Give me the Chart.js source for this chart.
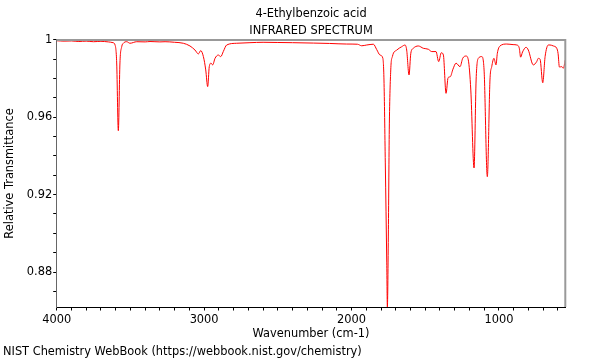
<!DOCTYPE html>
<html>
<head>
<meta charset="utf-8">
<title>4-Ethylbenzoic acid IR</title>
<script src="https://cdn.jsdelivr.net/npm/chart.js@4/dist/chart.umd.min.js"></script>
<style>
  html, body { margin: 0; padding: 0; background: #fff; }
  #wrap { width: 600px; height: 360px; }
</style>
</head>
<body>
<div id="wrap"><canvas id="ir" width="600" height="360"></canvas></div>
<script>
// spectrum (cm-1, relative transmittance)
const wavenumbers = [
  4000, 3950, 3900, 3850, 3800, 3750, 3700, 3650, 3618, 3604,
  3593, 3582, 3571, 3559, 3548, 3525, 3503, 3457, 3400, 3367,
  3300, 3265, 3200, 3141, 3096, 3062, 3039, 3023, 3005, 2989,
  2976, 2965, 2953, 2942, 2926, 2904, 2887, 2870, 2847, 2779,
  2689, 2600, 2500, 2400, 2259, 2150, 2033, 1960, 1931, 1897,
  1852, 1829, 1807, 1788, 1780, 1771, 1761, 1757, 1750, 1744,
  1734, 1723, 1693, 1660, 1637, 1626, 1610, 1598, 1581, 1547,
  1513, 1479, 1456, 1427, 1409, 1391, 1377, 1359, 1345, 1330,
  1312, 1291, 1264, 1246, 1223, 1208, 1191, 1169, 1155, 1140,
  1117, 1101, 1079, 1061, 1049, 1034, 1020, 1011, 993, 947,
  904, 879, 862, 853, 840, 816, 801, 767, 744, 733,
  721, 703, 687, 665, 654, 631, 608, 599, 590, 574,
  563, 550
];
const transmittance = [
  0.9996, 0.9994, 0.9995, 0.9992, 0.9994, 0.9991, 0.9993, 0.9990, 0.9986, 0.9974,
  0.9881, 0.9531, 0.9881, 0.9965, 0.9983, 0.9991, 0.9983, 0.9991, 0.9990, 0.9992,
  0.9990, 0.9991, 0.9988, 0.9983, 0.9969, 0.9948, 0.9928, 0.9945, 0.9914, 0.9845,
  0.9759, 0.9862, 0.9880, 0.9871, 0.9905, 0.9922, 0.9914, 0.9940, 0.9974, 0.9983,
  0.9986, 0.9988, 0.9987, 0.9986, 0.9984, 0.9982, 0.9979, 0.9978, 0.9970, 0.9974,
  0.9978, 0.9950, 0.9922, 0.9907, 0.9793, 0.9364, 0.8847, 0.8619, 0.9018, 0.9535,
  0.9845, 0.9914, 0.9948, 0.9965, 0.9974, 0.9948, 0.9819, 0.9931, 0.9957, 0.9969,
  0.9957, 0.9952, 0.9940, 0.9940, 0.9888, 0.9934, 0.9922, 0.9724, 0.9805, 0.9810,
  0.9849, 0.9880, 0.9862, 0.9905, 0.9917, 0.9897, 0.9741, 0.9338, 0.9793, 0.9905,
  0.9914, 0.9845, 0.9293, 0.9793, 0.9862, 0.9905, 0.9871, 0.9931, 0.9969, 0.9979,
  0.9976, 0.9974, 0.9957, 0.9911, 0.9938, 0.9962, 0.9948, 0.9871, 0.9888, 0.9905,
  0.9900, 0.9779, 0.9914, 0.9974, 0.9974, 0.9969, 0.9957, 0.9930, 0.9860, 0.9862,
  0.9854, 0.9897
];

const titleLines = ['4-Ethylbenzoic acid', 'INFRARED SPECTRUM'];
const xTitle = 'Wavenumber (cm-1)';
const yTitle = 'Relative Transmittance';
const footer = 'NIST Chemistry WebBook (https://webbook.nist.gov/chemistry)';
const xRange = [550, 4000];
const yRange = [0.8619, 1];

Chart.defaults.font.family = "'DejaVu Sans', sans-serif";
Chart.defaults.font.size = 11.4;
Chart.defaults.color = '#000';

// gray top/right frame
const frame = {
  id: 'frame',
  afterDraw(chart) {
    const { ctx, chartArea: a } = chart;
    ctx.save();
    ctx.strokeStyle = '#999';
    ctx.lineWidth = 2;
    ctx.beginPath();
    ctx.moveTo(a.left, a.top);
    ctx.lineTo(a.right, a.top);
    ctx.lineTo(a.right, a.bottom);
    ctx.stroke();
    ctx.restore();
  }
};

new Chart(document.getElementById('ir'), {
  type: 'line',
  data: {
    datasets: [{
      data: wavenumbers.map((w, i) => ({ x: w, y: transmittance[i] })),
      borderColor: 'rgb(255, 0, 0)',
      borderWidth: 1,
      pointRadius: 0,
      fill: false,
      cubicInterpolationMode: 'monotone'
    }]
  },
  options: {
    responsive: false,
    devicePixelRatio: 1,
    animation: false,
    layout: { padding: { left: 3, right: 34.7, top: 0, bottom: 0 } },
    plugins: {
      legend: { display: false },
      tooltip: { enabled: false },
      title: {
        display: true,
        text: titleLines,
        fullSize: false,
        color: '#000',
        font: { size: 11.4, weight: 'normal', lineHeight: 1.49 },
        padding: { top: 5.3, bottom: 0.7 }
      },
      subtitle: {
        display: true,
        text: footer,
        position: 'bottom',
        align: 'start',
        color: '#000',
        font: { size: 11.4, weight: 'normal' },
        padding: { top: 1, bottom: 1.2 }
      }
    },
    scales: {
      x: {
        type: 'linear',
        reverse: true,
        min: xRange[0],
        max: xRange[1],
        afterFit(s) { s.height = 37.12; },
        border: { color: '#000', width: 1 },
        grid: { drawOnChartArea: false, drawTicks: true, tickLength: 3.5, tickColor: '#000' },
        ticks: {
          stepSize: 100,
          autoSkip: false,
          includeBounds: false,
          maxRotation: 0,
          padding: 2.6,
          callback: v => (v % 1000 === 0 ? String(v) : '')
        },
        title: { display: true, text: xTitle, padding: { top: 0, bottom: 3.6 } }
      },
      y: {
        min: yRange[0],
        max: yRange[1],
        afterFit(s) { s.width = 53.7; },
        border: { color: '#666', width: 1 },
        grid: { drawOnChartArea: false, drawTicks: true, tickLength: 3.5, tickColor: '#000' },
        ticks: {
          stepSize: 0.01,
          autoSkip: false,
          includeBounds: false,
          padding: 1,
          callback: v => {
            const c = Math.round(v * 100);
            if (c % 4 !== 0) return '';
            return c === 100 ? '1' : v.toFixed(2);
          }
        },
        title: { display: true, text: yTitle, padding: { top: 0.16, bottom: 0 } }
      }
    }
  },
  plugins: [frame]
});
</script>
</body>
</html>
